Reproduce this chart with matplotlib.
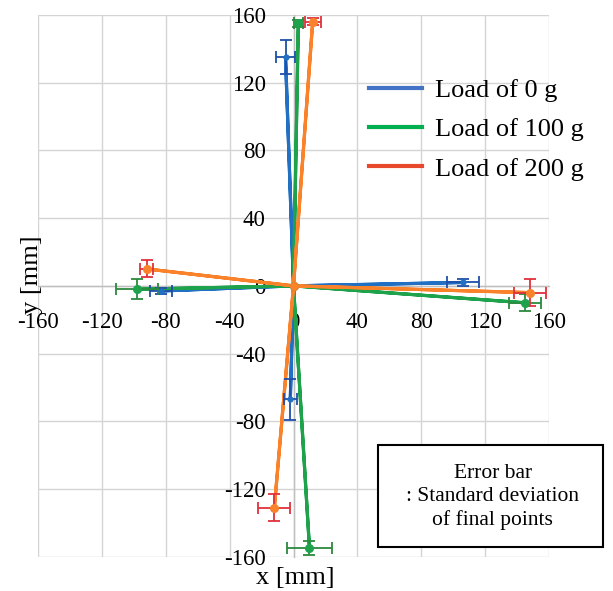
import matplotlib
matplotlib.use("Agg")
import matplotlib.pyplot as plt
from matplotlib.lines import Line2D
from matplotlib.patches import Rectangle

plt.rcParams["font.family"] = ["Liberation Serif", "DejaVu Serif"]
plt.rcParams["axes.unicode_minus"] = False

# final points of each run, order: up, right, down, left  (mm)
labels = ["Load of 0 g", "Load of 100 g", "Load of 200 g"]

x_0g = [-5, 106, -2, -83]
y_0g = [135, 2, -67, -3]
xerr_0g = [6, 10, 4, 7]
yerr_0g = [10, 2, 12, 2]

x_100g = [3, 145, 10, -98]
y_100g = [155, -10, -155, -2]
xerr_100g = [3, 10, 14, 13]
yerr_100g = [2, 5, 4, 6]

x_200g = [12, 148, -12, -92]
y_200g = [156, -4, -131, 10]
xerr_200g = [5, 10, 10, 4]
yerr_200g = [2, 8, 8, 5]

ticks = [-160, -120, -80, -40, 0, 40, 80, 120, 160]

series = [
    (x_0g, y_0g, xerr_0g, yerr_0g, "#2270c4", "#1f4fa8", "#4472c4", 3.5),
    (x_100g, y_100g, xerr_100g, yerr_100g, "#1ea24c", "#2b8a3e", "#00b050", 5.5),
    (x_200g, y_200g, xerr_200g, yerr_200g, "#f9822a", "#e0323c", "#e8492c", 5.5),
]

fig = plt.figure(figsize=(6.13, 5.91), dpi=100)
ax = fig.add_axes([0.062, 0.058, 0.8336, 0.9166])

for xs, ys, xe, ye, col, ecol, lcol, ms in series:
    # each path goes out from the start point and back
    px, py = [], []
    for xv, yv in zip(xs, ys):
        px += [0, xv]
        py += [0, yv]
    px.append(0)
    py.append(0)
    ax.plot(px, py, color=col, lw=2.3, zorder=3)
    ax.errorbar(xs, ys, xerr=xe, yerr=ye, fmt="none", ecolor=ecol,
                elinewidth=1.3, capsize=4, capthick=1.3, zorder=4)
    ax.plot(xs + [0], ys + [0], "o", color=col, ms=ms, zorder=5)

ax.set_xlim(-160, 160)
ax.set_ylim(-160, 160)
ax.set_xticks(ticks)
ax.set_yticks(ticks)
ax.grid(True, color="#d4d4d4", lw=1)
for gl in ax.get_xgridlines() + ax.get_ygridlines():
    gl.set_clip_on(False)
ax.set_axisbelow(True)

ax.spines["left"].set_position("zero")
ax.spines["bottom"].set_position("zero")
ax.spines["right"].set_visible(False)
ax.spines["top"].set_visible(False)
for s in ("left", "bottom"):
    ax.spines[s].set_color("#bfbfbf")
    ax.spines[s].set_linewidth(1)
    ax.spines[s].set_zorder(1)
ax.tick_params(axis="both", length=0, labelsize=16.5)
ax.tick_params(axis="y", pad=20)
ax.tick_params(axis="x", pad=19)

fig.text(0.482, 0.022, "x [mm]", fontsize=19, ha="center", va="center")
fig.text(0.052, 0.535, "y [mm]", fontsize=19, ha="center", va="center",
         rotation=90)

handles = [Line2D([], [], color=s[6], lw=3) for s in series]
fig.legend(handles, labels, loc="upper left", bbox_to_anchor=(0.602, 0.867),
           frameon=False, fontsize=19, handlelength=2.0, handletextpad=0.5,
           labelspacing=0.6, borderpad=0, borderaxespad=0)

fig.patches.append(Rectangle((0.6166, 0.0745), 0.367, 0.1726,
                             transform=fig.transFigure, facecolor="white",
                             edgecolor="black", lw=1.5, zorder=10))
fig.text(0.804, 0.159, "Error bar\n: Standard deviation\nof final points",
         fontsize=15.5, ha="center", va="center", linespacing=1.25,
         zorder=11)

fig.savefig("out.png", dpi=100)
